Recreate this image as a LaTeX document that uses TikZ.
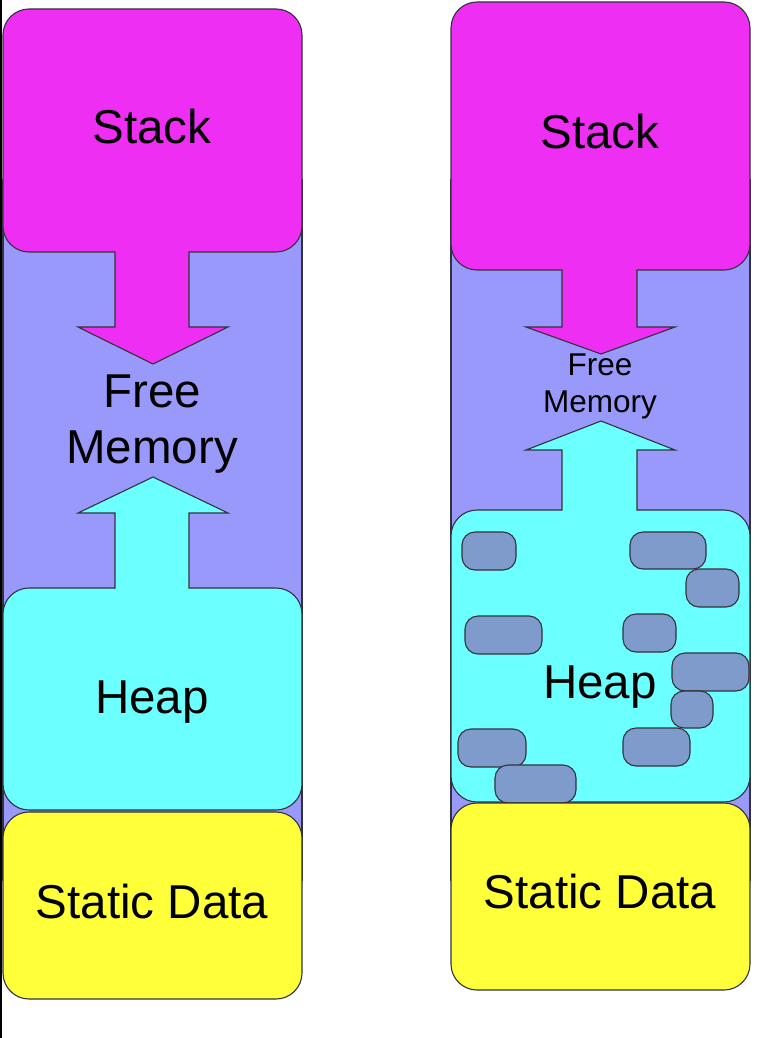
\documentclass[tikz,border=0pt]{standalone}
\usepackage{fontspec}
\setmainfont{Liberation Sans}
\definecolor{bgpurple}{RGB}{153,153,252}
\definecolor{mag}{RGB}{238,46,242}
\definecolor{cyanh}{RGB}{108,255,255}
\definecolor{yel}{RGB}{255,255,58}
\definecolor{blobc}{RGB}{127,155,203}
\definecolor{edge}{RGB}{50,50,60}
\tikzset{
  box/.style={draw=edge, line width=1.1pt, rounded corners=26pt, inner sep=0pt, outer sep=0pt},
  blob/.style={draw=edge, line width=1.1pt, fill=blobc, rounded corners=13pt, inner sep=0pt, outer sep=0pt},
  big/.style={anchor=base, inner sep=0pt, font=\fontsize{47.5}{57}\selectfont},
  small/.style={anchor=base, inner sep=0pt, font=\fontsize{31.5}{37}\selectfont},
  arrline/.style={draw=edge, line width=1.1pt, line join=miter}
}
\begin{document}
\begin{tikzpicture}[x=1pt,y=-1pt]
\useasboundingbox (0,0) rectangle (766,1038);
\fill[white] (0,0) rectangle (766,1038);
\fill[black] (0,0) rectangle (2,1038);

% ===== Left column =====
\node[draw=edge, line width=1.1pt, fill=bgpurple, inner sep=0pt, minimum width=299pt, minimum height=700pt] (lbg) at (152.5,530) {};
% stack
\node[box, fill=mag, minimum width=299pt, minimum height=243pt] (lstack) at (152.5,130.5) {};
\fill[mag] (115,240) -- (115,327) -- (78,327) -- (153,364) -- (228,327) -- (189,327) -- (189,240) -- cycle;
\draw[arrline] (115,251.5) -- (115,327) -- (78,327) -- (153,364) -- (228,327) -- (189,327) -- (189,251.5);
% heap
\node[box, fill=cyanh, minimum width=299pt, minimum height=222pt] (lheap) at (152.5,699) {};
\fill[cyanh] (115,600) -- (115,513) -- (78,513) -- (153,477) -- (228,513) -- (189,513) -- (189,600) -- cycle;
\draw[arrline] (115,588.5) -- (115,513) -- (78,513) -- (153,477) -- (228,513) -- (189,513) -- (189,588.5);
% static
\node[box, fill=yel, minimum width=299pt, minimum height=187pt] (lstatic) at (152.5,905.5) {};
% texts
\node[big] (tls) at (152,143) {Stack};
\node[big] (tlf) at (152,407) {Free};
\node[big] (tlm) at (152,463) {Memory};
\node[big] (tlh) at (152,713) {Heap};
\node[big] (tld) at (152,918) {Static Data};

% ===== Right column =====
\node[draw=edge, line width=1.1pt, fill=bgpurple, inner sep=0pt, minimum width=299pt, minimum height=700pt] (rbg) at (600.5,530) {};
% stack
\node[box, fill=mag, minimum width=299pt, minimum height=268pt] (rstack) at (600.5,136) {};
\fill[mag] (562,258) -- (562,327) -- (526,327) -- (601,354) -- (675,327) -- (637,327) -- (637,258) -- cycle;
\draw[arrline] (562,269.5) -- (562,327) -- (526,327) -- (601,354) -- (675,327) -- (637,327) -- (637,269.5);
% heap
\node[box, fill=cyanh, minimum width=299pt, minimum height=292pt] (rheap) at (600.5,656) {};
\fill[cyanh] (562,522) -- (562,450) -- (526,450) -- (601,421) -- (675,450) -- (637,450) -- (637,522) -- cycle;
\draw[arrline] (562,510.5) -- (562,450) -- (526,450) -- (601,421) -- (675,450) -- (637,450) -- (637,510.5);
% fragments
\node[blob, minimum width=54pt, minimum height=38pt] (b1) at (489,551) {};
\node[blob, minimum width=76pt, minimum height=37pt] (b2) at (668,550.5) {};
\node[blob, minimum width=53pt, minimum height=38pt] (b3) at (712.5,588) {};
\node[blob, minimum width=77pt, minimum height=38pt] (b4) at (503.5,635) {};
\node[blob, minimum width=53pt, minimum height=38pt] (b5) at (649.5,633) {};
\node[blob, minimum width=77pt, minimum height=38pt] (b6) at (710.5,672) {};
\node[blob, minimum width=42pt, minimum height=37pt] (b7) at (692,709.5) {};
\node[blob, minimum width=67pt, minimum height=38pt] (b8) at (656.5,747) {};
\node[blob, minimum width=68pt, minimum height=38pt] (b9) at (492,748) {};
\node[blob, minimum width=81pt, minimum height=38pt] (b10) at (535.5,784) {};
% static
\node[box, fill=yel, minimum width=299pt, minimum height=187pt] (rstatic) at (600.5,896.5) {};
% texts
\node[big] (trs) at (600,148) {Stack};
\node[small] (trf) at (600,375) {Free};
\node[small] (trm) at (600,412) {Memory};
\node[big] (trh) at (600,698) {Heap};
\node[big] (trd) at (600,908) {Static Data};
\end{tikzpicture}
\end{document}
